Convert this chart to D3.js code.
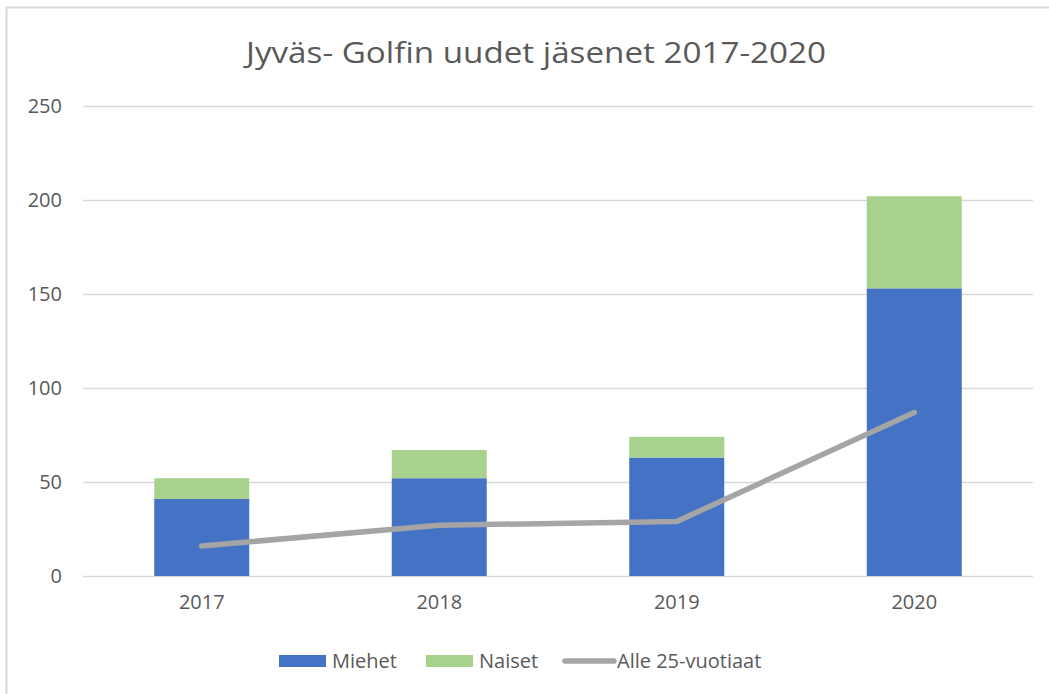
<!DOCTYPE html>
<html><head><meta charset="utf-8">
<script src="https://cdnjs.cloudflare.com/ajax/libs/d3/7.8.5/d3.min.js"></script>
<style>html,body{margin:0;padding:0;background:#fff;overflow:hidden}</style>
</head><body>
<svg id="chart" width="1049" height="694"></svg>
<script>
const years = ["2017", "2018", "2019", "2020"];
const miehet = [41, 52, 63, 153];
const naiset = [11, 15, 11, 49];
const alle25 = [16, 27, 29, 87];
const yTicks = [0, 50, 100, 150, 200, 250];
const titleText = "Jyväs- Golfin uudet jäsenet 2017-2020";
const seriesNames = ["Miehet", "Naiset", "Alle 25-vuotiaat"];
const colors = ["#4472C4", "#A9D18E", "#A5A5A5"];

const svg = d3.select("#chart");
const font = "'Open Sans', 'DejaVu Sans', sans-serif";
const textColor = "#595959";

// frame
svg.append("rect").attr("x", 6.5).attr("y", 7.5).attr("width", 1100).attr("height", 800)
  .attr("fill", "none").attr("stroke", "#D9D9D9").attr("stroke-width", 2);

svg.append("text").attr("x", 536).attr("y", 63).attr("text-anchor", "middle")
  .attr("font-family", font).attr("font-size", 29).attr("fill", textColor)
  .attr("textLength", 580).attr("lengthAdjust", "spacingAndGlyphs")
  .text(titleText);

const x = d3.scaleBand().domain(years).range([83, 1033]).paddingInner(0.6).paddingOuter(0.3);
const y = d3.scaleLinear().domain([0, 250]).range([576, 106]);

// grid
const yAxis = d3.axisLeft(y).tickValues(yTicks).tickSize(-(1033 - 83)).tickPadding(21);
const gy = svg.append("g").attr("transform", "translate(83,0)").call(yAxis);
gy.select(".domain").remove();
gy.selectAll(".tick line").attr("stroke", "#D9D9D9").attr("stroke-width", 1.5);
gy.selectAll(".tick text").attr("font-family", font).attr("font-size", 20).attr("fill", textColor);

const xAxis = d3.axisBottom(x).tickSize(0).tickPadding(19);
const gx = svg.append("g").attr("transform", "translate(0,576)").call(xAxis);
gx.select(".domain").remove();
gx.selectAll(".tick text").attr("font-family", font).attr("font-size", 20).attr("fill", textColor);

// bars
const stackData = years.map((yr, i) => ({year: yr, miehet: miehet[i], naiset: naiset[i]}));
const stack = d3.stack().keys(["miehet", "naiset"])(stackData);
stack.forEach((layer, li) => {
  svg.append("g").selectAll("rect").data(layer).join("rect")
    .attr("x", d => x(d.data.year))
    .attr("width", x.bandwidth())
    .attr("y", d => y(d[1]))
    .attr("height", d => y(d[0]) - y(d[1]))
    .attr("fill", colors[li]);
});

// line
const line = d3.line().x((d, i) => x(years[i]) + x.bandwidth() / 2).y(d => y(d));
svg.append("path").datum(alle25).attr("d", line).attr("fill", "none")
  .attr("stroke", colors[2]).attr("stroke-width", 5.5)
  .attr("stroke-linecap", "round").attr("stroke-linejoin", "round");

// legend
const legendY = 661;
const leg = svg.append("g");
const items = [
  {name: seriesNames[0], x0: 279, x1: 326, type: "rect", tx: 332},
  {name: seriesNames[1], x0: 426, x1: 473, type: "rect", tx: 479},
  {name: seriesNames[2], x0: 565, x1: 614, type: "line", tx: 617}
];
items.forEach((it, i) => {
  if (it.type === "rect") {
    leg.append("rect").attr("x", it.x0).attr("y", legendY - 6).attr("width", it.x1 - it.x0).attr("height", 12).attr("fill", colors[i]);
  } else {
    leg.append("line").attr("x1", it.x0).attr("x2", it.x1).attr("y1", legendY).attr("y2", legendY)
      .attr("stroke", colors[i]).attr("stroke-width", 5.5).attr("stroke-linecap", "round");
  }
  leg.append("text").attr("x", it.tx).attr("y", legendY).attr("dy", "0.35em")
    .attr("font-family", font).attr("font-size", 20).attr("fill", textColor).text(it.name);
});
</script>
</body></html>
